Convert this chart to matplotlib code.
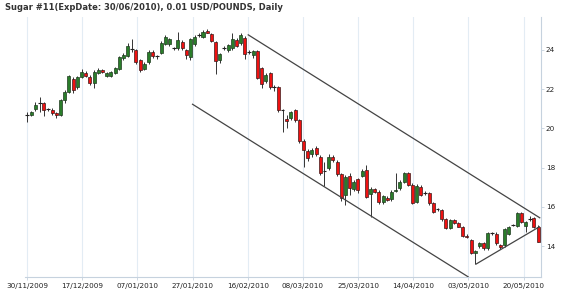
"""
Daily candlestick chart of Sugar #11 (Jul 2010 contract) with trend channel.
Saves out.png
"""

import numpy as np
import matplotlib
matplotlib.use('Agg')
import matplotlib.pyplot as plt


###############################################################################
# DATA
###############################################################################
opens = [20.66, 20.70, 20.97, 21.30, 21.30, 20.97, 20.94, 20.80, 20.68, 21.45,
         21.84, 22.50, 22.10, 22.60, 22.81, 22.60, 22.33, 22.81, 22.98, 22.68,
         22.68, 22.84, 23.03, 23.57, 23.69, 24.03, 24.00, 23.49, 23.03, 23.40,
         23.88, 23.69, 23.83, 24.31, 24.31, 24.08, 24.08, 24.42, 24.00, 23.66,
         24.29, 24.76, 24.65, 24.99, 24.82, 24.43, 23.49, 24.09, 24.00, 24.09,
         24.51, 24.34, 24.63, 23.92, 23.72, 23.95, 23.07, 22.42, 22.81, 22.13,
         22.13, 20.93, 20.48, 20.54, 20.93, 20.42, 19.35, 18.84, 18.67, 19.01,
         18.55, 17.85, 17.96, 18.55, 18.30, 17.65, 16.60, 17.57, 16.89, 17.40,
         17.57, 17.88, 16.66, 16.89, 16.77, 16.26, 16.43, 16.38, 16.82, 16.94,
         17.28, 17.71, 17.11, 16.26, 16.99, 16.69, 16.69, 16.18, 15.89, 15.84,
         15.36, 14.90, 15.33, 15.16, 14.95, 14.53, 14.31, 13.63, 14.00, 14.14,
         13.88, 14.65, 14.61, 14.05, 14.05, 14.61, 15.07, 15.02, 15.67, 15.02,
         15.36, 15.41, 14.99]
highs = [20.85, 20.90, 21.35, 21.58, 21.36, 21.05, 21.05, 20.85, 21.50, 21.95,
         22.70, 22.62, 22.68, 23.05, 22.95, 22.70, 22.98, 23.10, 23.05, 22.85,
         22.95, 23.12, 23.70, 23.85, 24.35, 24.54, 24.05, 23.55, 23.40, 24.00,
         24.00, 23.75, 24.45, 24.75, 24.62, 24.15, 24.90, 24.50, 24.05, 24.60,
         24.75, 24.85, 25.00, 25.05, 24.88, 24.48, 23.85, 24.20, 24.30, 24.85,
         24.60, 24.85, 24.70, 24.00, 24.00, 24.00, 23.15, 22.80, 22.90, 22.20,
         22.18, 21.00, 20.70, 20.90, 21.00, 20.50, 19.45, 18.95, 19.00, 19.10,
         18.62, 18.30, 18.70, 18.65, 18.40, 17.70, 17.60, 17.70, 17.35, 17.45,
         17.95, 18.13, 17.00, 16.95, 16.85, 16.60, 16.55, 16.85, 17.71, 17.35,
         17.80, 17.78, 17.20, 17.15, 17.10, 16.80, 16.75, 16.25, 15.95, 15.90,
         15.45, 15.40, 15.40, 15.20, 15.00, 14.60, 14.35, 13.80, 14.20, 14.20,
         14.72, 14.72, 14.70, 14.10, 14.90, 15.00, 15.12, 15.75, 15.75, 15.30,
         15.55, 15.48, 15.05]
lows = [20.35, 20.62, 20.88, 20.85, 20.65, 20.88, 20.70, 20.55, 20.62, 21.30,
        21.78, 21.78, 22.00, 22.55, 22.60, 22.20, 22.08, 22.75, 22.80, 22.60,
        22.62, 22.78, 23.00, 23.50, 23.65, 23.91, 23.30, 22.90, 22.98, 23.30,
        23.60, 23.55, 23.78, 24.25, 24.20, 23.98, 24.00, 24.00, 23.55, 23.50,
        24.20, 24.65, 24.60, 24.85, 24.40, 22.75, 23.35, 24.00, 23.92, 24.00,
        24.15, 24.25, 23.55, 23.80, 23.60, 22.50, 22.05, 22.30, 22.00, 21.90,
        20.85, 19.83, 20.00, 20.45, 20.35, 19.25, 18.04, 18.35, 18.55, 18.60,
        17.60, 17.05, 17.90, 18.30, 17.55, 16.30, 16.10, 16.60, 16.80, 16.70,
        17.50, 16.45, 15.50, 16.70, 16.15, 16.15, 16.30, 16.30, 16.75, 16.85,
        17.20, 17.05, 16.15, 16.20, 16.55, 16.60, 16.10, 15.70, 15.80, 15.30,
        14.85, 14.85, 15.10, 14.95, 14.45, 14.40, 13.60, 13.08, 13.90, 13.80,
        13.80, 14.58, 14.05, 13.85, 13.95, 14.55, 15.00, 14.95, 15.15, 14.70,
        15.30, 14.90, 14.20]
closes = [20.66, 20.85, 21.19, 21.30, 20.95, 20.97, 20.80, 20.68, 21.45, 21.87,
          22.65, 21.96, 22.60, 22.86, 22.67, 22.33, 22.89, 22.98, 22.86, 22.80,
          22.86, 23.06, 23.63, 23.74, 24.20, 24.03, 23.38, 22.98, 23.28, 23.91,
          23.71, 23.69, 24.34, 24.68, 24.54, 24.08, 24.51, 24.08, 23.74, 24.54,
          24.68, 24.76, 24.93, 24.88, 24.48, 23.45, 23.78, 24.09, 24.23, 24.57,
          24.22, 24.74, 23.78, 23.92, 23.95, 22.59, 22.25, 22.73, 22.13, 22.13,
          20.95, 20.93, 20.37, 20.82, 20.42, 19.35, 18.89, 18.50, 18.89, 18.67,
          17.70, 17.85, 18.53, 18.38, 17.65, 16.43, 17.54, 16.94, 17.28, 16.86,
          17.85, 16.52, 16.89, 16.77, 16.26, 16.55, 16.35, 16.77, 16.88, 17.25,
          17.71, 17.11, 16.21, 17.06, 16.60, 16.69, 16.18, 15.75, 15.89, 15.36,
          14.90, 15.33, 15.16, 14.99, 14.53, 14.44, 13.66, 13.75, 14.17, 13.88,
          14.68, 14.65, 14.14, 13.93, 14.85, 14.95, 15.07, 15.67, 15.24, 15.24,
          15.36, 14.95, 14.22]

date_labels = ['30/11/2009', '17/12/2009', '07/01/2010', '27/01/2010', '16/02/2010',
               '08/03/2010', '25/03/2010', '14/04/2010', '03/05/2010', '20/05/2010']
price_ticks = [14, 16, 18, 20, 22, 24]

# trend lines: (bar index, price) at both ends
channel_upper = [(52.8, 24.77), (122.4, 15.44)]
channel_lower = [(39.5, 21.23), (105.3, 12.43)]
support_line = [(107.2, 13.08), (122.3, 14.98)]

title = 'Sugar #11(ExpDate: 30/06/2010), 0.01 USD/POUNDS, Daily'


###############################################################################
# PLOT
###############################################################################
def draw_candles(ax):
    """Draw wicks and bodies, dojis as flat dashes"""
    o = np.array(opens)
    h = np.array(highs)
    l = np.array(lows)
    c = np.array(closes)
    idx = np.arange(len(o))

    ax.vlines(idx, l, h, color='#333333', linewidth=0.7, zorder=2)

    body = np.abs(c - o)
    flat = body < 0.03
    up = (c > o) & ~flat
    down = (c < o) & ~flat

    ax.bar(idx[up], body[up], bottom=o[up], width=0.72, color='#2a7d2a',
           edgecolor='#1f3a1f', linewidth=0.5, zorder=3)
    ax.bar(idx[down], body[down], bottom=c[down], width=0.72, color='#ee1111',
           edgecolor='#3a1a1a', linewidth=0.5, zorder=3)
    ax.hlines(o[flat], idx[flat] - 0.45, idx[flat] + 0.45, color='#222222',
              linewidth=0.8, zorder=3)


fig = plt.figure(figsize=(5.7, 2.95), dpi=100)
ax = fig.add_axes([25 / 570, 18 / 295, 516 / 570, 260 / 295])

draw_candles(ax)

for line in [channel_upper, channel_lower, support_line]:
    xs, ys = zip(*line)
    ax.plot(xs, ys, color='#444444', linewidth=0.9, zorder=4)

# x ticks sit every ~13 bars
tick_pos = np.arange(len(date_labels)) * 13.17
ax.set_xticks(tick_pos)
ax.set_xticklabels(date_labels, fontsize=5.2, color='#222222')
ax.set_xlim(-0.5, 122.7)
ax.set_ylim(12.42, 25.68)

ax.yaxis.tick_right()
ax.set_yticks(price_ticks)
ax.set_yticklabels([str(v) for v in price_ticks], fontsize=5.2, color='#222222')

ax.grid(axis='x', color='#e3ecf4', linewidth=0.8, zorder=0)
ax.tick_params(axis='x', length=2, width=0.6, color='#c6d2de', pad=2)
ax.tick_params(axis='y', length=2, width=0.6, color='#c6d2de', pad=1.5)

for side in ['left', 'top']:
    ax.spines[side].set_visible(False)
for side in ['right', 'bottom']:
    ax.spines[side].set_color('#c6d2de')
    ax.spines[side].set_linewidth(0.8)

fig.text(5 / 570, 1 - 3 / 295, title, fontsize=6, fontweight='bold',
         color='#333333', ha='left', va='top')

fig.savefig('out.png', dpi=100)
